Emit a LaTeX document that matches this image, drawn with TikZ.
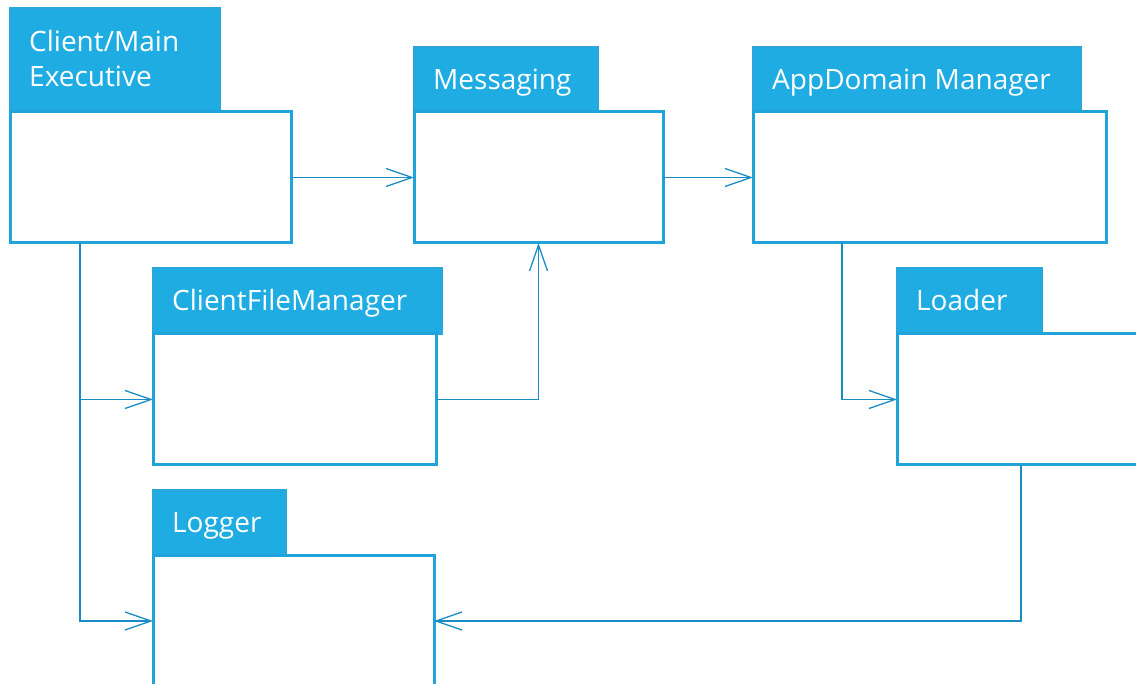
\documentclass[tikz,border=0pt]{standalone}
\usepackage{fontspec}
\setmainfont{Open Sans}
\usetikzlibrary{arrows.meta,calc}
\definecolor{tabblue}{HTML}{1EACE2}
\definecolor{tabedge}{HTML}{2AA6DA}
\definecolor{edgeblue}{HTML}{1FA3DA}
\definecolor{wireblue}{HTML}{1A8CC4}
\begin{document}
\begin{tikzpicture}[x=1pt,y=-1pt,
  tab/.style={fill=tabblue, draw=tabedge, line width=1.2pt, anchor=north west,
    inner sep=0pt, outer sep=0pt},
  body/.style={draw=edgeblue, line width=3pt, fill=white, anchor=north west,
    inner sep=0pt, outer sep=0pt},
  title/.style={anchor=west, inner sep=0pt, text=white,
    font=\fontsize{28}{35}\selectfont, text height=20pt, text depth=0pt},
  wire/.style={draw=wireblue, line width=1.5pt,
    -{Straight Barb[length=26pt,width=18pt,line width=1.3pt]}}]
\path[use as bounding box] (0,0) rectangle (1136,684);
\clip (0,0) rectangle (1136,684);

% package: Client/Main Executive (two-line title)
\node[tab, minimum width=210pt, minimum height=104pt] (cmeT) at (10,8) {};
\node[body, minimum width=281pt, minimum height=131pt] (cmeB) at (10,112) {};
\node[title, anchor=base west] (cmeL) at ($(cmeT.north west)+(19,44)$) {Client/Main};
\node[title, anchor=base west] (cmeM) at ($(cmeT.north west)+(19,79)$) {Executive};

% package: Messaging
\node[tab, minimum width=184pt, minimum height=65pt] (msgT) at (414,47) {};
\node[body, minimum width=249pt, minimum height=131pt] (msgB) at (414,112) {};
\node[title] (msgL) at ($(msgT.west)+(19,0)$) {Messaging};

% package: AppDomain Manager
\node[tab, minimum width=328pt, minimum height=65pt] (admT) at (753,47) {};
\node[body, minimum width=353pt, minimum height=131pt] (admB) at (753,112) {};
\node[title] (admL) at ($(admT.west)+(19,0)$) {AppDomain Manager};

% package: ClientFileManager
\node[tab, minimum width=289pt, minimum height=66pt] (cfmT) at (153,268) {};
\node[body, minimum width=283pt, minimum height=131pt] (cfmB) at (153,334) {};
\node[title] (cfmL) at ($(cfmT.west)+(19,0)$) {ClientFileManager};

% package: Loader
\node[tab, minimum width=145pt, minimum height=66pt] (ldrT) at (897,268) {};
\node[body, minimum width=281pt, minimum height=131pt] (ldrB) at (897,334) {};
\node[title] (ldrL) at ($(ldrT.west)+(19,0)$) {Loader};

% package: Logger
\node[tab, minimum width=133pt, minimum height=65pt] (logT) at (153,490) {};
\node[body, minimum width=281pt, minimum height=132pt] (logB) at (153,555) {};
\node[title] (logL) at ($(logT.west)+(19,0)$) {Logger};

% branch points on the lower edges
\coordinate (cmeOut) at ($(cmeB.south west)+(70,0)$);
\coordinate (admOut) at ($(admB.south west)+(89,0)$);
\coordinate (ldrOut) at ($(ldrB.south west)+(124,0)$);

% dependencies
\draw[wire] (cmeB.east) -- (msgB.west);
\draw[wire] (msgB.east) -- (admB.west);
\draw[wire] (cmeOut) |- (cfmB.west);
\draw[wire] (cmeOut) |- (logB.west);
\draw[wire] (cfmB.east) -| (msgB.south);
\draw[wire] (admOut) |- (ldrB.west);
\draw[wire] (ldrOut) |- (logB.east);
\end{tikzpicture}
\end{document}
